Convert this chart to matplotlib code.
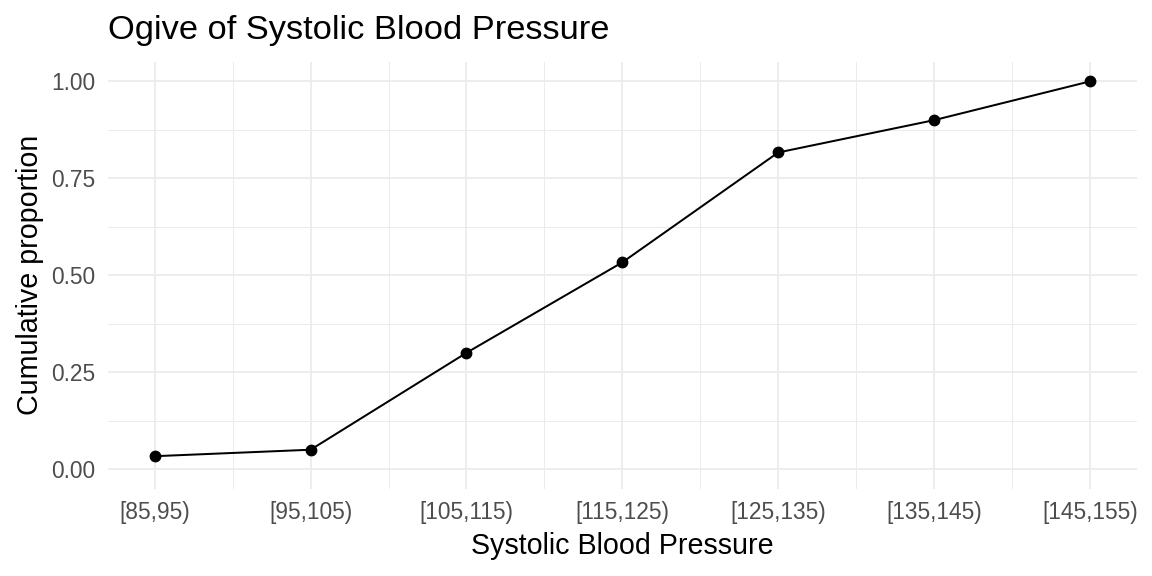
import matplotlib.pyplot as plt

plt.rcParams['font.family'] = ['Liberation Sans', 'DejaVu Sans']

# class midpoints, labels and cumulative proportions (n = 60)
midpoints = [90, 100, 110, 120, 130, 140, 150]
class_labels = ['[85,95)', '[95,105)', '[105,115)', '[115,125)',
                '[125,135)', '[135,145)', '[145,155)']
cum_prop = [2/60, 3/60, 18/60, 32/60, 49/60, 54/60, 60/60]

fig = plt.figure(figsize=(8, 4), dpi=144)
ax = fig.add_axes([108/1152, 1 - 488.5/576, (1136.7 - 108)/1152, (488.5 - 62)/576])

ax.plot(midpoints, cum_prop, color='black', linewidth=1.0, zorder=3)
ax.plot(midpoints, cum_prop, 'o', color='black', markersize=4.9, zorder=4)

ax.set_xlim(87, 153)
ax.set_ylim(-0.05, 1.05)
ax.set_xticks(midpoints)
ax.set_xticklabels(class_labels)
ax.set_xticks([95, 105, 115, 125, 135, 145], minor=True)
ax.set_yticks([0, 0.25, 0.5, 0.75, 1.0])
ax.set_yticklabels(['0.00', '0.25', '0.50', '0.75', '1.00'])
ax.set_yticks([0.125, 0.375, 0.625, 0.875], minor=True)

ax.grid(which='major', color='#EBEBEB', linewidth=0.9)
ax.grid(which='minor', color='#EBEBEB', linewidth=0.5)
ax.set_axisbelow(True)
for s in ax.spines.values():
    s.set_visible(False)
ax.tick_params(which='both', length=0)
ax.tick_params(axis='both', labelsize=11.4, labelcolor='#4D4D4D', pad=6.4)

ax.set_xlabel('Systolic Blood Pressure', fontsize=14.3, labelpad=3.6)
ax.set_ylabel('Cumulative proportion', fontsize=14.3, labelpad=3.6)
fig.text(108/1152, 1 - 30/576, 'Ogive of Systolic Blood Pressure',
         fontsize=17.2, ha='left', va='center')

plt.savefig('out.png', dpi=144)
